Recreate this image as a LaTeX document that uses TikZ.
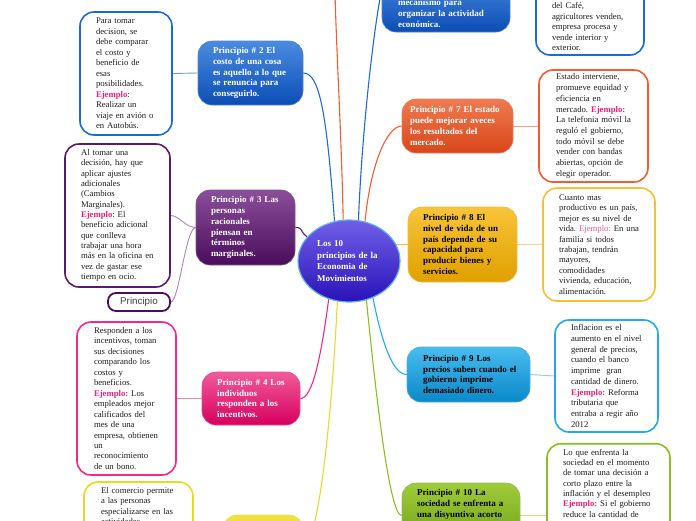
\documentclass[tikz,border=0pt]{standalone}
\usepackage{fontspec}
\setmainfont{Liberation Serif}
\setsansfont{Liberation Sans}
\usetikzlibrary{shapes.geometric,backgrounds}
\frenchspacing
\definecolor{ejpink}{HTML}{E8207A}
\definecolor{ejpinkL}{HTML}{EC5A92}
\definecolor{bluT}{HTML}{4A8CE0}\definecolor{bluB}{HTML}{0C4DB5}\definecolor{bluD}{HTML}{1C6AD8}\definecolor{bluL}{HTML}{6AA0E8}
\definecolor{purT}{HTML}{8A4E9A}\definecolor{purB}{HTML}{4A0D5C}\definecolor{purD}{HTML}{5A1A6A}\definecolor{purL}{HTML}{B080C0}
\definecolor{pnkT}{HTML}{F25A9A}\definecolor{pnkB}{HTML}{D6005F}\definecolor{pnkD}{HTML}{F5288A}\definecolor{pnkL}{HTML}{F580B0}
\definecolor{orgT}{HTML}{F07A50}\definecolor{orgB}{HTML}{D8461A}\definecolor{orgD}{HTML}{F55A30}\definecolor{orgL}{HTML}{F5A080}
\definecolor{gldT}{HTML}{F8C438}\definecolor{gldB}{HTML}{E0A000}\definecolor{gldD}{HTML}{F8C030}\definecolor{gldL}{HTML}{F8D880}
\definecolor{lbT}{HTML}{48BDF0}\definecolor{lbB}{HTML}{0A88C8}\definecolor{lbD}{HTML}{22A8EE}\definecolor{lbL}{HTML}{80D0F5}
\definecolor{grT}{HTML}{A0CC3A}\definecolor{grB}{HTML}{6C9E18}\definecolor{grD}{HTML}{88C020}\definecolor{grL}{HTML}{C0E080}
\definecolor{yeT}{HTML}{F2E040}\definecolor{yeB}{HTML}{E8D010}\definecolor{yeD}{HTML}{ECD820}
\definecolor{ctT}{HTML}{7060E8}\definecolor{ctB}{HTML}{2A12B8}\definecolor{ctD}{HTML}{60B0F0}
\newcommand{\ejm}[1]{\textcolor{ejpink}{\textbf{#1}}}
\begin{document}
\begin{tikzpicture}[x=1pt,y=-1pt,
  nobreak/.style={execute at begin node={\frenchspacing\rightskip=0pt plus 1fil minus 100pt\relax}},
  det/.style={draw, line width=1.6pt, fill=white, rounded corners=14pt, align=left,
    font=\fontsize{8.7}{10.5}\selectfont, text=black!88, inner sep=0pt, nobreak},
  pri/.style={draw=#1B!70!white, line width=0.6pt, top color=#1T, bottom color=#1B,
    rounded corners=14pt, align=left, font=\fontsize{9}{10.8}\selectfont\bfseries,
    inner sep=0pt, text=white, nobreak},
  link/.style={line width=1.1pt},
  sub/.style={line width=0.9pt}]
\useasboundingbox (0,0) rectangle (696,520);

% centre
\node[ellipse, draw=ctD, line width=1.2pt, top color=ctT, bottom color=ctB, inner sep=0pt,
  minimum width=102pt, minimum height=82pt, text width=64pt, align=left, text=white, nobreak,
  font=\fontsize{9}{11.7}\selectfont\bfseries] (ctr) at (349,261)
  {Los 10\\principios de la\\Economia de\\Movimientos};

% left side
\node[pri=blu, minimum width=105pt, minimum height=64pt, text width=75pt] (p2) at (250.5,73)
  {Principio \# 2 El\\costo de una cosa\\es aquello a lo que\\se renuncia para\\conseguirlo.};
\node[det, draw=bluD, minimum width=92pt, minimum height=123pt, text width=60pt] (d2) at (126,73.5)
  {Para tomar\\decision, se\\debe comparar\\el costo y\\beneficio de\\esas\\posibilidades.\\\ejm{Ejemplo}:\\Realizar un\\viaje en avión o\\en Autobús.};

\node[pri=pur, minimum width=99pt, minimum height=75pt, text width=69pt] (p3) at (245.5,227.5)
  {Principio \# 3 Las\\personas\\racionales\\piensan en\\términos\\marginales.};
\node[det, draw=purD, minimum width=105pt, minimum height=143pt, text width=73pt,
  font=\fontsize{8.7}{10.35}\selectfont] (d3) at (117.5,215.5)
  {Al tomar una\\decisión, hay que\\aplicar ajustes\\adicionales\\(Cambios\\Marginales).\\\ejm{Ejemplo}: El\\beneficio adicional\\que conlleva\\trabajar una hora\\más en la oficina en\\vez de gastar ese\\tiempo en ocio.};
\node[draw=purB, line width=1.8pt, fill=white, rounded corners=8pt, minimum width=62pt,
  minimum height=18pt, inner sep=0pt, font=\sffamily\fontsize{9.8}{11}\selectfont,
  text=black!75] (pr) at (139,302) {Principio};

\node[pri=pnk, minimum width=98pt, minimum height=53pt, text width=68pt] (p4) at (251,398.5)
  {Principio \# 4 Los\\individuos\\responden a los\\incentivos.};
\node[det, draw=pnkD, minimum width=99pt, minimum height=153pt, text width=65pt,
  font=\fontsize{8.7}{10.45}\selectfont] (d4) at (126.5,398.5)
  {Responden a los\\incentivos, toman\\sus decisiones\\comparando los\\costos y\\beneficios.\\\ejm{Ejemplo:} Los\\empleados mejor\\calificados del\\mes de una\\empresa, obtienen\\un\\reconocimiento\\de un bono.};

\node[det, draw=yeD, minimum width=109pt, minimum height=83pt, text width=75pt] (d5) at (138.5,523.5)
  {El comercio permite\\a las personas\\especializarse en las\\actividades\\\strut\\\strut\\\strut};
\node[pri=ye, minimum width=80pt, minimum height=60pt] (p5) at (263,545) {};

% right side
\coordinate (p1) at (335,-6);
\node[pri=blu, minimum width=128pt, minimum height=60pt, text width=96pt] (p6) at (446,2)
  {\strut\\\strut\\mecanismo para\\organizar la actividad\\económica.};
\node[det, draw=bluD, minimum width=108pt, minimum height=89.5pt, text width=76pt] (d6) at (590,10.25)
  {\strut\\\strut\\\strut\\del Café,\\agricultores venden,\\empresa procesa y\\vende interior y\\exterior.};

\node[pri=org, minimum width=111pt, minimum height=54pt, text width=95pt] (p7) at (457.5,126)
  {Principio \# 7 El estado\\puede mejorar aveces\\los resultados del\\mercado.};
\node[det, draw=orgD, minimum width=109pt, minimum height=112pt, text width=75pt,
  font=\fontsize{8.7}{10.7}\selectfont] (d7) at (593.5,126)
  {Estado interviene,\\promueve equidad y\\eficiencia en\\mercado. \ejm{Ejemplo:}\\La telefonia móvil la\\reguló el gobierno,\\todo móvil se debe\\vender con bandas\\abiertas, opción de\\elegir operador.};

\node[pri=gld, text=black, minimum width=109pt, minimum height=75pt, text width=79pt] (p8) at (462.5,244.5)
  {Principio \# 8 El\\nivel de vida de un\\país depende de su\\capacidad para\\producir bienes y\\servicios.};
\node[det, draw=gldD, minimum width=112pt, minimum height=113pt, text width=80pt,
  font=\fontsize{8.7}{10.4}\selectfont] (d8) at (599,244.5)
  {Cuanto mas\\productivo es un país,\\mejor es su nivel de\\vida. \textcolor{ejpinkL}{Ejemplo:} En una\\familia si todos\\trabajan, tendrán\\mayores,\\comodidades\\vivienda, educación,\\alimentación.};

\node[pri=lb, text=black, minimum width=123pt, minimum height=55pt, text width=91pt] (p9) at (468.5,374.5)
  {Principio \# 9 Los\\precios suben cuando el\\gobierno imprime\\demasiado dinero.};
\node[det, draw=lbD, minimum width=103pt, minimum height=112pt, text width=71pt,
  font=\fontsize{8.7}{10.7}\selectfont] (d9) at (606.5,376)
  {Inflacion es el\\aumento en el nivel\\general de precios,\\cuando el banco\\imprime\ \ gran\\cantidad de dinero.\\\ejm{Ejemplo:} Reforma\\tributaria que\\entraba a regir año\\2012};

\node[pri=gr, text=black, minimum width=118pt, minimum height=65pt, text width=88pt] (p10) at (461,515.5)
  {Principio \# 10 La\\sociedad se enfrenta a\\una disyuntiva acorto\\\strut\\\strut};
\node[det, draw=grD, minimum width=123pt, minimum height=143.6pt, text width=91pt,
  font=\fontsize{8.7}{10.3}\selectfont] (d10) at (608.5,515.5)
  {Lo que enfrenta la\\sociedad en el momento\\de tomar una decisión a\\corto plazo entre la\\inflación y el desempleo\\\ejm{Ejemplo:} Si el gobierno\\reduce la cantidad de\\\strut\\\strut\\\strut\\\strut\\\strut\\\strut};

\begin{scope}[on background layer]
\draw[link, orgD] (ctr.98) .. controls +(-2,-90) and +(2,70) .. (p1);
\draw[link, bluD] (ctr.77) .. controls +(4,-100) and +(-6,25) .. (p6.170);
\draw[link, bluD] (ctr.110) .. controls +(-8,-110) and +(16,0) .. (p2.east);
\draw[link, orgD] (ctr.68) .. controls +(6,-60) and +(-14,0) .. (p7.west);
\draw[link, purD] (ctr.150) .. controls +(-8,-6) and +(8,0) .. (p3.east);
\draw[link, gldD] (ctr.19) -- (p8.west);
\draw[link, lbD] (ctr.-57) .. controls +(8,40) and +(-15,0) .. (p9.west);
\draw[link, grD] (ctr.-66) .. controls +(10,100) and +(-12,0) .. (p10.west);
\draw[link, pnkD] (ctr.-118) .. controls +(-8,60) and +(12,0) .. (p4.east);
\draw[link, yeD] (ctr.-106) .. controls +(-6,120) and +(15,0) .. (p5.east);

\draw[sub, bluL] (p2.west) -- (d2.east);
\draw[sub, purL] (p3.west) .. controls +(-10,0) and +(8,0) .. (d3.east);
\draw[sub, purL] (p3.west) .. controls +(-10,0) and +(8,0) .. (pr.east);
\draw[sub, pnkL] (p4.west) -- (d4.east);
\draw[sub, yeD] (p5.west) -- (d5.east);
\draw[sub, bluL] (p6.20) -- (d6.160);
\draw[sub, orgL] (p7.east) -- (d7.west);
\draw[sub, gldL] (p8.east) -- (d8.west);
\draw[sub, lbL] (p9.east) -- (d9.west);
\draw[sub, grL] (p10.east) -- (d10.west);
\end{scope}
\end{tikzpicture}
\end{document}
